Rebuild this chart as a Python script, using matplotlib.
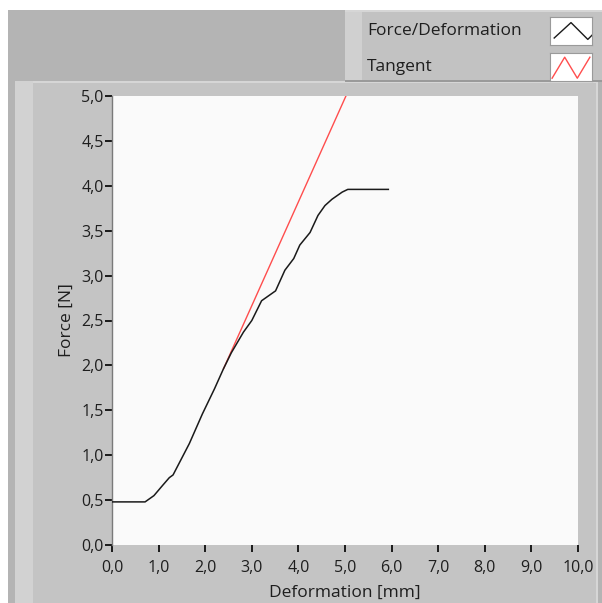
import matplotlib
matplotlib.use('Agg')
import matplotlib.pyplot as plt
from matplotlib.patches import Rectangle
from matplotlib.ticker import MultipleLocator, FuncFormatter

# measured curve (deformation mm, force N)
deformation = [0.0, 0.71, 0.90, 1.08, 1.23, 1.31, 1.40, 1.66, 1.94, 2.20, 2.39, 2.56,
               2.82, 3.00, 3.21, 3.51, 3.71, 3.90, 4.03, 4.25, 4.42, 4.57, 4.72, 4.94,
               5.06, 5.93]
force = [0.48, 0.48, 0.55, 0.66, 0.75, 0.78, 0.87, 1.13, 1.46, 1.74, 1.96, 2.14,
         2.37, 2.50, 2.72, 2.83, 3.06, 3.19, 3.34, 3.48, 3.67, 3.78, 3.85, 3.93,
         3.96, 3.96]

# tangent line end points
tangent_x = [2.39, 5.02]
tangent_y = [1.96, 5.0]

legend_labels = ['Force/Deformation', 'Tangent']
legend_colors = ['#1a1a1a', '#ff4d4d']

W, H = 602, 603
FONT = ['Open Sans', 'DejaVu Sans']
TXT = '#1e1e1e'

fig = plt.figure(figsize=(W / 100, H / 100), dpi=100, facecolor='white')


def box(x0, y0, x1, y1, color, z=0):
    # rectangle in pixel coordinates (top-left origin)
    fig.add_artist(Rectangle((x0 / W, 1 - y1 / H), (x1 - x0) / W, (y1 - y0) / H,
                             transform=fig.transFigure, facecolor=color,
                             edgecolor='none', zorder=z))


# panel background
box(8, 10, 602, 603, '#b4b4b4', -3)
box(15, 81, 598, 603, '#c4c4c4', -2)
box(15, 81, 598, 83, '#d6d6d6', -1)
box(15, 81, 33, 603, '#d2d2d2', -1)
box(596, 81, 598, 603, '#d6d6d6', -1)

# legend panel
box(345, 10, 602, 82, '#c2c2c2', -2)
box(345, 10, 362, 80, '#d0d0d0', -1)
box(345, 80, 602, 82, '#9a9a9a', -1)
box(345, 10, 602, 12, '#d6d6d6', -1)

ax = fig.add_axes([112 / W, 1 - 545 / H, (578 - 112) / W, (545 - 96) / H])
ax.set_facecolor('#fafafa')
ax.plot(deformation, force, color=legend_colors[0], lw=1.1, zorder=3)
ax.plot(tangent_x, tangent_y, color=legend_colors[1], lw=1.0, zorder=2)
ax.set_xlim(0, 10)
ax.set_ylim(0, 5)
ax.xaxis.set_major_locator(MultipleLocator(1.0))
ax.yaxis.set_major_locator(MultipleLocator(0.5))
fmt = FuncFormatter(lambda v, p: f'{v:.1f}'.replace('.', ','))
ax.xaxis.set_major_formatter(fmt)
ax.yaxis.set_major_formatter(fmt)
for s in ['top', 'right', 'bottom']:
    ax.spines[s].set_visible(False)
ax.spines['left'].set_color('#7a7a7a')
ax.spines['left'].set_linewidth(1.0)
ax.tick_params(direction='out', length=5, width=1.4, color='#1a1a1a',
               labelsize=11.5, labelcolor=TXT)
ax.tick_params(axis='x', pad=6)
ax.tick_params(axis='y', pad=1)
for lab in ax.get_xticklabels() + ax.get_yticklabels():
    lab.set_family(FONT)
ax.set_xlabel('Deformation [mm]', fontsize=12.5, color=TXT, family=FONT, labelpad=6)
ax.set_ylabel('Force [N]', fontsize=12.5, color=TXT, family=FONT, labelpad=5)

# legend entries
for i, (lab, col) in enumerate(zip(legend_labels, legend_colors)):
    yc = 31 + 36 * i
    fig.text(367 / W, 1 - yc / H, lab, fontsize=12.5, color=TXT, family=FONT,
             va='center', ha='left')
    sw = fig.add_axes([550 / W, 1 - (yc + 14) / H, 42 / W, 28 / H])
    sw.set_facecolor('white')
    if i == 0:
        sw.plot([0.1, 0.5, 0.9, 1.0], [0.25, 0.8, 0.2, 0.35], color=col, lw=1.0)
    else:
        sw.plot([0.05, 0.35, 0.65, 0.95], [0.1, 0.85, 0.1, 0.85], color=col, lw=1.0)
    sw.set_xlim(0, 1)
    sw.set_ylim(0, 1)
    sw.set_xticks([])
    sw.set_yticks([])
    for s in sw.spines.values():
        s.set_color('#9a9a9a')
        s.set_linewidth(0.8)

fig.savefig('out.png', dpi=100)
